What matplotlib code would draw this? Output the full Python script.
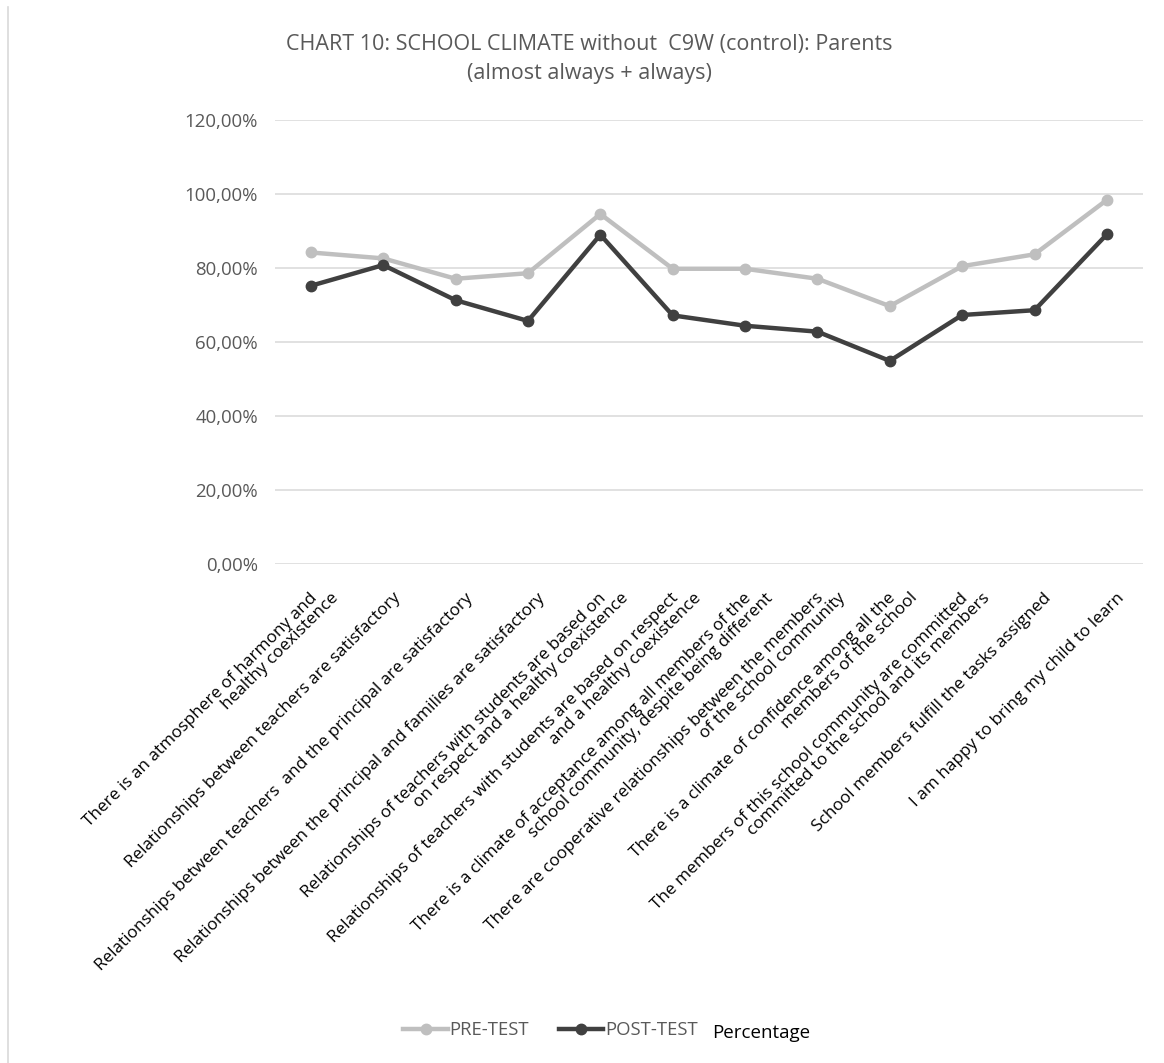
import matplotlib.pyplot as plt
import matplotlib.ticker as mticker
from matplotlib.lines import Line2D

plt.rcParams["font.family"] = ["Open Sans", "DejaVu Sans"]

# ---------- Data ----------
items = [
    "There is an atmosphere of harmony and\nhealthy coexistence",
    "Relationships between teachers are satisfactory",
    "Relationships between teachers  and the principal are satisfactory",
    "Relationships between the principal and families are satisfactory",
    "Relationships of teachers with students are based on\non respect and a healthy coexistence",
    "Relationships of teachers with students are based on respect\nand a healthy coexistence",
    "There is a climate of acceptance among all members of the\nschool community, despite being different",
    "There are cooperative relationships between the members\nof the school community",
    "There is a climate of confidence among all the\nmembers of the school",
    "The members of this school community are committed\ncommitted to the school and its members",
    "School members fulfill the tasks assigned",
    "I am happy to bring my child to learn",
]
pre_test = [0.842, 0.826, 0.771, 0.786, 0.946, 0.798, 0.798, 0.771, 0.697, 0.805, 0.837, 0.984]
post_test = [0.752, 0.808, 0.713, 0.657, 0.890, 0.672, 0.644, 0.628, 0.549, 0.673, 0.686, 0.891]
y_ticks = [0, 0.2, 0.4, 0.6, 0.8, 1.0, 1.2]

PRE_COLOR = "#bfbfbf"
POST_COLOR = "#404040"
TEXT_GRAY = "#595959"
GRID = "#d9d9d9"

fig = plt.figure(figsize=(11.64, 10.63), dpi=100)
fig.patch.set_facecolor("white")
ax = fig.add_axes([0.236, 0.4694, 0.746, 0.4177])

x = list(range(len(items)))
ax.plot(x, pre_test, color=PRE_COLOR, linewidth=3.2, marker="o", markersize=7.5,
        solid_capstyle="round", zorder=3)
ax.plot(x, post_test, color=POST_COLOR, linewidth=3.2, marker="o", markersize=7.5,
        solid_capstyle="round", zorder=4)

ax.set_xlim(-0.5, len(items) - 0.5)
ax.set_ylim(0, 1.2)
ax.set_yticks(y_ticks)
ax.yaxis.set_major_formatter(mticker.FuncFormatter(
    lambda v, _: f"{v * 100:.2f}%".replace(".", ",")))
ax.tick_params(axis="y", length=0, pad=12, labelsize=13.4, labelcolor=TEXT_GRAY)
ax.grid(axis="y", color=GRID, linewidth=1.1, zorder=0)
for side in ("top", "right", "left", "bottom"):
    ax.spines[side].set_visible(False)

# Category labels at 45 degrees; every wrapped line ends on the same row,
# stepped to the right, the way the spreadsheet lays them out.
ax.set_xticks(x)
ax.set_xticklabels([])
ax.tick_params(axis="x", length=0)
for i, label in enumerate(items):
    lines = label.split("\n")
    n = len(lines)
    for k, line in enumerate(lines):
        dx = 9 + 22 * (k - (n - 1) / 2)
        ax.annotate(line, xy=(i, 0), xycoords=ax.get_xaxis_transform(),
                    xytext=(dx, -26), textcoords="offset pixels",
                    rotation=45, rotation_mode="anchor", ha="right", va="top",
                    fontsize=12.3, color="black", annotation_clip=False)

# Title
fig.text(0.506, 0.958, "CHART 10: SCHOOL CLIMATE without  C9W (control): Parents",
         ha="center", va="center", fontsize=15.5, color=TEXT_GRAY)
fig.text(0.506, 0.931, "(almost always + always)",
         ha="center", va="center", fontsize=15.5, color=TEXT_GRAY)

# Legend along the bottom
handles = [
    Line2D([], [], color=PRE_COLOR, linewidth=3.2, marker="o", markersize=7.5),
    Line2D([], [], color=POST_COLOR, linewidth=3.2, marker="o", markersize=7.5),
]
fig.legend(handles, ["PRE-TEST", "POST-TEST"], loc="center",
           bbox_to_anchor=(0.473, 0.031), ncol=2, frameon=False,
           fontsize=13.3, labelcolor=TEXT_GRAY, handlelength=2.4,
           handletextpad=0.1, columnspacing=1.6)
fig.text(0.654, 0.028, "Percentage", ha="center", va="center",
         fontsize=13.5, color="black")

# Chart area border on the left edge
fig.add_artist(Line2D([0.0065, 0.0065], [0.0, 0.993], color=GRID, linewidth=1.2,
                      transform=fig.transFigure))

fig.savefig("out.png", dpi=100, facecolor="white")
